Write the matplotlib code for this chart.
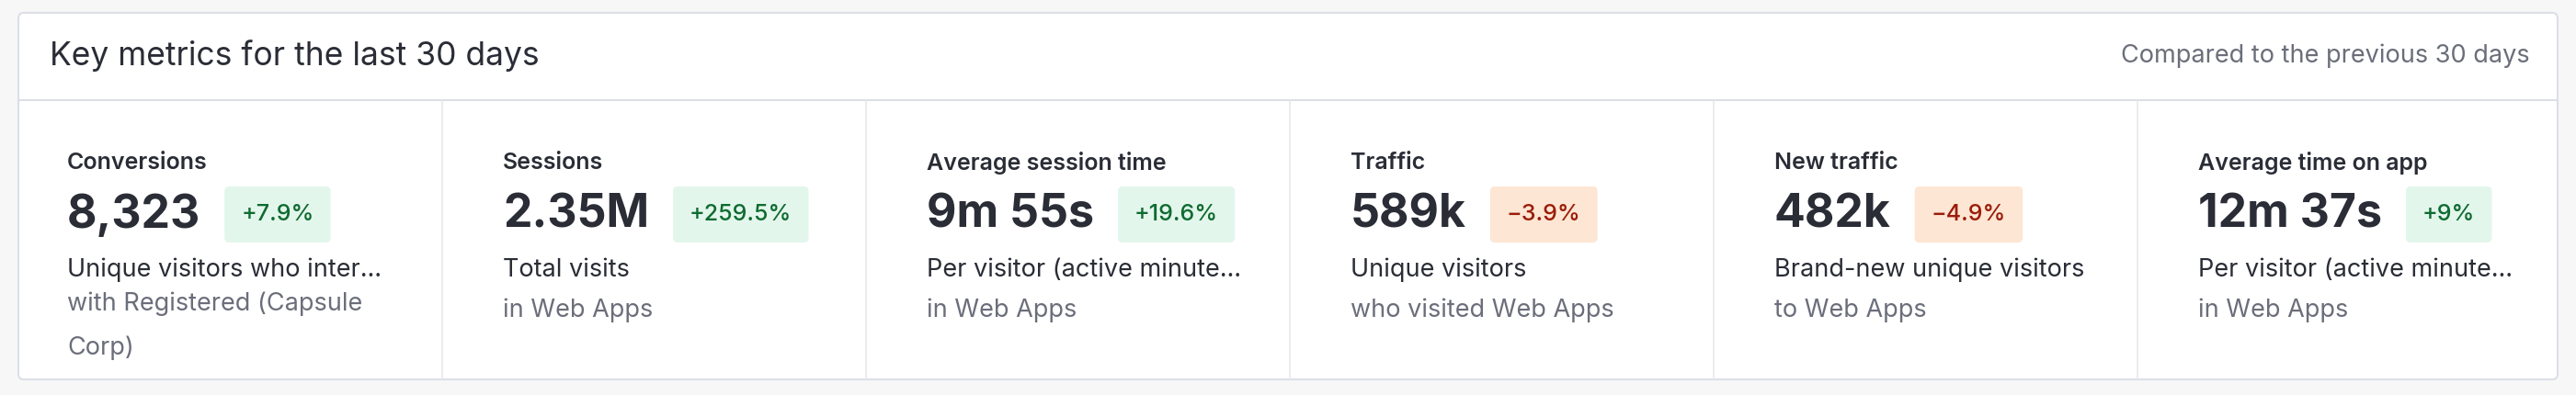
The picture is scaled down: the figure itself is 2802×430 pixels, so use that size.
import matplotlib
matplotlib.use("Agg")
import matplotlib.pyplot as plt
from matplotlib.patches import FancyBboxPatch

plt.rcParams['font.family'] = ['Inter', 'DejaVu Sans']

title = "Key metrics for the last 30 days"
subtitle = "Compared to the previous 30 days"
labels = ["Conversions", "Sessions", "Average session time", "Traffic", "New traffic", "Average time on app"]
values = ["8,323", "2.35M", "9m 55s", "589k", "482k", "12m 37s"]
changes = ["+7.9%", "+259.5%", "+19.6%", "\u22123.9%", "\u22124.9%", "+9%"]
positive = [True, True, True, False, False, True]
desc1 = ["Unique visitors who inter\u2026", "Total visits", "Per visitor (active minute\u2026",
         "Unique visitors", "Brand-new unique visitors", "Per visitor (active minute\u2026"]
desc2 = ["with Registered (Capsule\nCorp)", "in Web Apps", "in Web Apps",
         "who visited Web Apps", "to Web Apps", "in Web Apps"]

W, H = 2802, 430
fig = plt.figure(figsize=(W / 100, H / 100), dpi=100, facecolor="#f7f7f8")
ax = fig.add_axes([0, 0, 1, 1])
ax.set_xlim(0, W); ax.set_ylim(H, 0); ax.axis("off")

DARK = "#2a2d36"; GRAY = "#6b6e7a"; BORDER = "#dcdfe6"
ax.add_patch(FancyBboxPatch((20, 14), 2762, 399, boxstyle="round,pad=0,rounding_size=6",
                            fc="white", ec=BORDER, lw=1.5))
ax.plot([20, 2782], [109, 109], color=BORDER, lw=1.5)
ax.text(54, 61, title, fontsize=25.5, color=DARK, va="center", ha="left")
ax.text(2752, 61, subtitle, fontsize=19.5, color=GRAY, va="center", ha="right")

col_w = 461
fig.canvas.draw()
r = fig.canvas.get_renderer()
for i in range(6):
    x0 = 20 + i * col_w
    if i > 0:
        ax.plot([x0, x0], [110, 412], color="#e8e9ee", lw=1.2)
    tx = x0 + 53 + (13 if i > 0 else 0)
    ax.text(tx, 177, labels[i], fontsize=18, fontweight="semibold", color=DARK, va="center")
    vt = ax.text(tx, 234, values[i], fontsize=36, fontweight="bold", color=DARK, va="center")
    bb = vt.get_window_extent(r)
    bx = bb.x1 + 26
    ct = ax.text(0, 0, changes[i], fontsize=18, color="#0f6b30" if positive[i] else "#9b1c0a",
                 va="center", ha="center", fontweight="medium", zorder=3)
    cw = ct.get_window_extent(r).width
    bw = cw + 36
    ax.add_patch(FancyBboxPatch((bx, 203), bw, 61, boxstyle="round,pad=0,rounding_size=5",
                                fc="#e3f6ec" if positive[i] else "#fde6d3", ec="none", zorder=2))
    ct.set_position((bx + bw / 2, 234))
    ax.text(tx, 294, desc1[i], fontsize=19.5, color=DARK, va="center")
    if "\n" in desc2[i]:
        ax.text(tx, 318, desc2[i], fontsize=19.5, color=GRAY, va="top", linespacing=2.0)
    else:
        ax.text(tx, 338, desc2[i], fontsize=19.5, color=GRAY, va="center")

fig.savefig("out.png", dpi=100, facecolor=fig.get_facecolor())
